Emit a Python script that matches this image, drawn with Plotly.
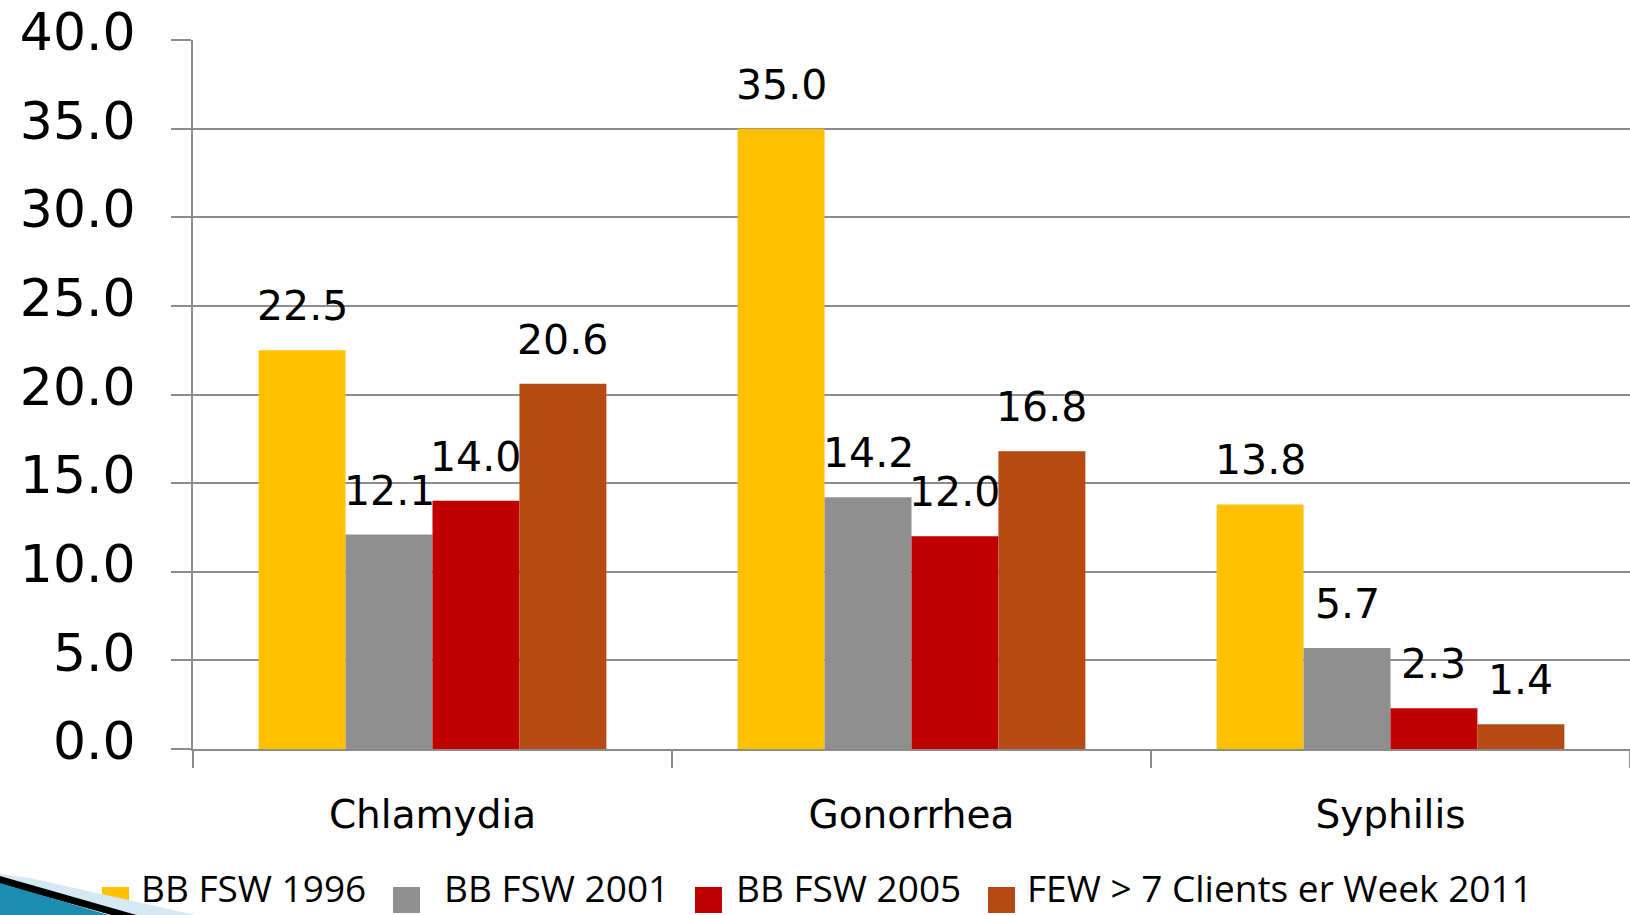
import plotly.graph_objects as go

categories = ["Chlamydia", "Gonorrhea", "Syphilis"]
series_names = ["BB FSW 1996", "BB FSW 2001", "BB FSW 2005", "FEW > 7 Clients er Week 2011"]
bb_1996 = [22.5, 35.0, 13.8]
bb_2001 = [12.1, 14.2, 5.7]
bb_2005 = [14.0, 12.0, 2.3]
few_2011 = [20.6, 16.8, 1.4]
series_values = [bb_1996, bb_2001, bb_2005, few_2011]
colors = ["#FFC000", "#8F8F8F", "#C00000", "#B54A12"]
y_ticks = [0, 5, 10, 15, 20, 25, 30, 35, 40]

W, H = 1630, 915
ML, MR, MT, MB = 193, 0, 40, 166
PW = W - ML - MR
PH = H - MT - MB
BARGAP = 0.274
GRID = "#8C8C8C"


def px(xp):
    return (xp - ML) / PW


def py(yp):
    return (H - MB - yp) / PH


fig = go.Figure()
for name, vals, col in zip(series_names, series_values, colors):
    fig.add_trace(go.Bar(x=categories, y=vals, name=name, marker_color=col,
                         marker_line_width=0, showlegend=False))

# data labels above bars
n = len(series_values)
bw = (1 - BARGAP) / n
annotations = []
for j, vals in enumerate(series_values):
    for i, v in enumerate(vals):
        annotations.append(dict(
            x=i + (j - (n - 1) / 2) * bw, y=v, xref="x", yref="y",
            text=f"{v:.1f}", showarrow=False, yanchor="bottom", xanchor="center",
            yshift=18, font=dict(family="DejaVu Sans", size=41, color="black")))

# manual legend
leg_sq = [(102, 129), (393, 420), (695, 722), (988, 1015)]
leg_tx = [140, 443, 735, 1026]
shapes = []
for (x0, x1), tx, name, col in zip(leg_sq, leg_tx, series_names, colors):
    shapes.append(dict(type="rect", xref="paper", yref="paper",
                       x0=px(x0), x1=px(x1), y0=py(913), y1=py(887),
                       fillcolor=col, line_width=0))
    annotations.append(dict(x=px(tx), y=py(914), xref="paper", yref="paper",
                            text=name, showarrow=False, xanchor="left", yanchor="bottom",
                            borderpad=0,
                            font=dict(family="Open Sans, DejaVu Sans Condensed, sans-serif",
                                      size=37, color="black")))

# bottom-left decorative wedge
def path(points):
    return "M " + " L ".join(f"{px(a)},{py(b)}" for a, b in points) + " Z"

shapes.append(dict(type="path", xref="paper", yref="paper",
                   path=path([(0, 874), (30, 878), (200, 916), (120, 916), (0, 880)]),
                   fillcolor="#D4E9F2", line_width=0))
shapes.append(dict(type="path", xref="paper", yref="paper",
                   path=path([(0, 876), (140, 916), (115, 916), (0, 884)]),
                   fillcolor="#000000", line_width=0))
shapes.append(dict(type="path", xref="paper", yref="paper",
                   path=path([(0, 883), (112, 916), (0, 916)]),
                   fillcolor="#1B8DAE", line_width=0))

fig.update_layout(
    width=W, height=H,
    margin=dict(l=ML, r=MR, t=MT, b=MB, pad=0),
    barmode="group", bargap=BARGAP, bargroupgap=0,
    plot_bgcolor="white", paper_bgcolor="white",
    showlegend=False,
    annotations=annotations, shapes=shapes,
    font=dict(family="DejaVu Sans", color="black"),
)
fig.update_xaxes(
    type="category", tickson="boundaries", ticks="outside", ticklen=17,
    tickwidth=2, tickcolor=GRID, showline=True, linecolor=GRID, linewidth=2,
    showgrid=False, tickfont=dict(family="DejaVu Sans", size=39, color="black"),
    ticklabelstandoff=30,
)
fig.update_yaxes(
    range=[0, 40], tickvals=y_ticks, ticktext=[f"{t:.1f}" for t in y_ticks],
    ticks="outside", ticklen=20, tickwidth=2, tickcolor=GRID,
    showline=True, linecolor=GRID, linewidth=2,
    showgrid=True, gridcolor=GRID, gridwidth=2, zeroline=False,
    tickfont=dict(family="DejaVu Sans", size=52, color="black"),
    ticklabelstandoff=25, ticklabelshift=-8,
)

fig.write_html(
    "out.html",
    config={"displayModeBar": False},
    post_script="document.body.style.margin='0';document.body.style.overflow='hidden';",
)
